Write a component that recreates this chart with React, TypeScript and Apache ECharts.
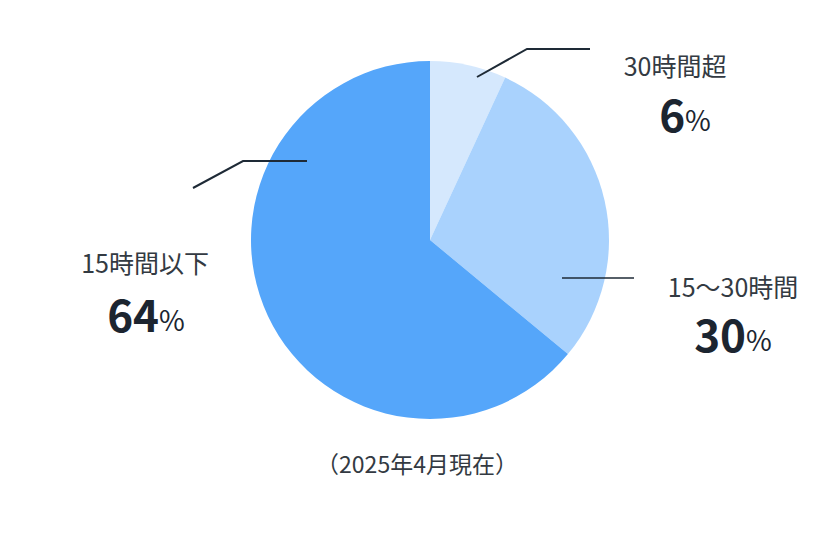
import { useRef, useEffect } from "react";
import * as echarts from "echarts";

// slices, clockwise from 12 o'clock
const categories = ["30時間超", "15〜30時間", "15時間以下"];
const values = [6.9, 29.1, 64.0];
const percentLabels = ["6", "30", "64"];
const note = "（2025年4月現在）";

const COLORS = ["#d5e8fd", "#a9d2fd", "#55a6fa"];
const LINE = "#1e2a36";
const FONT = "'Noto Sans CJK JP', 'Noto Sans', sans-serif";

// label anchors (centre of name, centre of percentage) and leader lines
const labelLayout = [
  { name: [675, 65], pct: [685, 113], line: [[477, 77], [527, 49], [590, 49]], width: 2 },
  { name: [733, 286], pct: [733, 333], line: [[562, 278], [634, 278]], width: 1.5 },
  { name: [145, 262], pct: [146, 313], line: [[193, 188], [243, 161], [307, 161]], width: 2 },
];

export default function App() {
  const ref = useRef<HTMLDivElement>(null);

  useEffect(() => {
    document.body.style.margin = "0";
    if (!ref.current) return;
    const chart = echarts.init(ref.current, undefined, { renderer: "svg" });

    const graphics: any[] = [];
    labelLayout.forEach((l, i) => {
      graphics.push({
        type: "polyline",
        shape: { points: l.line },
        style: { stroke: LINE, lineWidth: l.width, fill: "none" },
        z: 10,
      });
      graphics.push({
        type: "text",
        x: l.name[0],
        y: l.name[1],
        style: {
          text: categories[i],
          font: `400 25px ${FONT}`,
          lineHeight: 26,
          fill: "#333a42",
          align: "center",
          verticalAlign: "middle",
        },
        z: 10,
      });
      graphics.push({
        type: "text",
        x: l.pct[0],
        y: l.pct[1],
        style: {
          text: `{n|${percentLabels[i]}}{p|%}`,
          align: "center",
          verticalAlign: "middle",
          rich: {
            n: { font: `700 44px ${FONT}`, fill: "#1c2530", lineHeight: 40 },
            p: { font: `400 28px ${FONT}`, fill: "#1c2530", lineHeight: 30, verticalAlign: "bottom" },
          },
        },
        z: 10,
      });
    });
    graphics.push({
      type: "text",
      x: 417,
      y: 463,
      style: {
        text: note,
        font: `400 23px ${FONT}`,
        fill: "#333a42",
        align: "center",
        verticalAlign: "middle",
      },
    });

    chart.setOption({
      animation: false,
      backgroundColor: "#ffffff",
      series: [
        {
          type: "pie",
          center: [430, 240],
          radius: 179,
          startAngle: 90,
          clockwise: true,
          silent: true,
          label: { show: false },
          labelLine: { show: false },
          itemStyle: { borderWidth: 0 },
          data: categories.map((c, i) => ({
            name: c,
            value: values[i],
            itemStyle: { color: COLORS[i] },
          })),
        },
      ],
      graphic: graphics,
    });

    return () => chart.dispose();
  }, []);

  return <div ref={ref} style={{ width: 825, height: 540 }} />;
}
